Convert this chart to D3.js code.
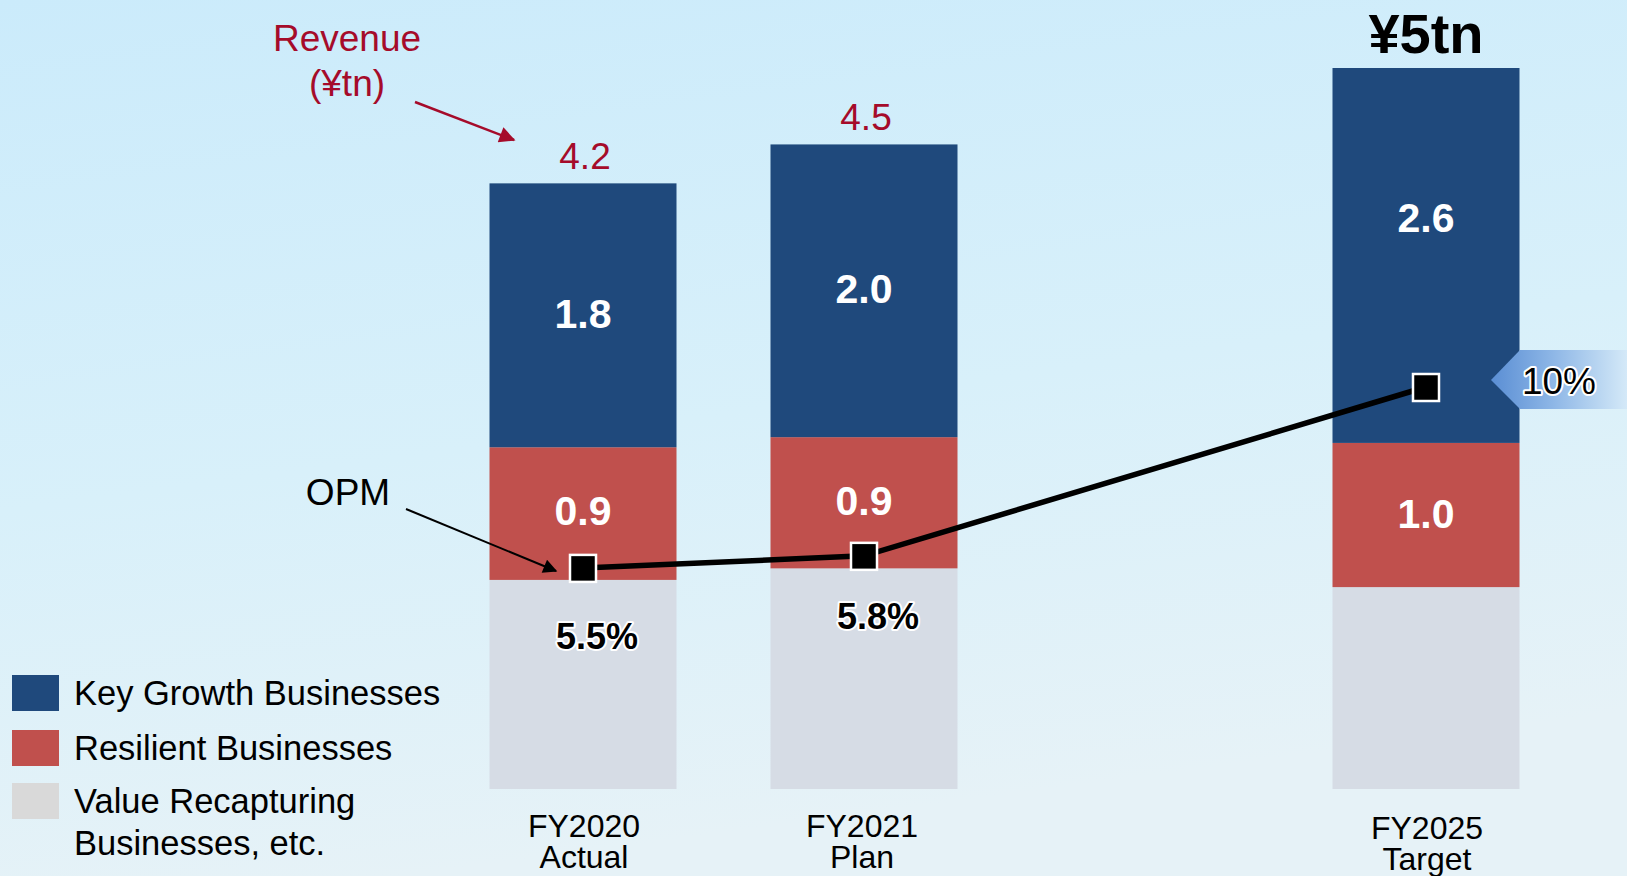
<!DOCTYPE html>
<html>
<head>
<meta charset="utf-8">
<script src="https://cdn.jsdelivr.net/npm/d3@7"></script>
<style>
  html, body { margin: 0; padding: 0; overflow: hidden; }
  svg { display: block; font-family: "Liberation Sans", Arial, sans-serif; }
</style>
</head>
<body>
<svg id="chart" width="1627" height="876"></svg>
<script>
// ---- data ----
const slots = ["FY2020", "FY2021", "", "FY2025"];
const categories = ["FY2020", "FY2021", "FY2025"];
const subLabels = ["Actual", "Plan", "Target"];
const valueRecapturing = [1.45, 1.53, 1.40];
const resilient = [0.92, 0.91, 1.00];
const keyGrowth = [1.83, 2.03, 2.60];
const keyGrowthLabels = ["1.8", "2.0", "2.6"];
const resilientLabels = ["0.9", "0.9", "1.0"];
const totalLabels = ["4.2", "4.5", "¥5tn"];
const opm = [5.5, 5.8, 10];
const opmLabels = ["5.5%", "5.8%", "10%"];
const seriesNames = ["Key Growth Businesses", "Resilient Businesses", "Value Recapturing\nBusinesses, etc."];
const colors = { key: "#1F497C", res: "#C0504D", val: "#D6DCE5", valLegend: "#D9D9D9" };

const svg = d3.select("#chart");
const W = 1627, H = 876;

// background
const defs = svg.append("defs");
const bg = defs.append("linearGradient").attr("id", "bg").attr("x1", 0).attr("y1", 0).attr("x2", 0.25).attr("y2", 1);
bg.append("stop").attr("offset", "0%").attr("stop-color", "#CBEBFB");
bg.append("stop").attr("offset", "55%").attr("stop-color", "#D8F0FA");
bg.append("stop").attr("offset", "100%").attr("stop-color", "#E6F2F7");
svg.append("rect").attr("width", W).attr("height", H).attr("fill", "url(#bg)");

const cg = defs.append("linearGradient").attr("id", "callout").attr("x1", 0).attr("x2", 1).attr("y1", 0).attr("y2", 0);
cg.append("stop").attr("offset", "0%").attr("stop-color", "#5A8ED4");
cg.append("stop").attr("offset", "45%").attr("stop-color", "#8DB6E6");
cg.append("stop").attr("offset", "100%").attr("stop-color", "#D4E9F8");

defs.append("marker").attr("id", "arrRed").attr("viewBox", "0 0 10 10")
  .attr("refX", 9).attr("refY", 5).attr("markerWidth", 18).attr("markerHeight", 16)
  .attr("markerUnits", "userSpaceOnUse").attr("orient", "auto")
  .append("path").attr("d", "M0,0 L10,5 L0,10 z").attr("fill", "#A50B2A");
defs.append("marker").attr("id", "arrBlk").attr("viewBox", "0 0 10 10")
  .attr("refX", 9).attr("refY", 5).attr("markerWidth", 16).attr("markerHeight", 14)
  .attr("markerUnits", "userSpaceOnUse").attr("orient", "auto")
  .append("path").attr("d", "M0,0 L10,5 L0,10 z").attr("fill", "#000");

// scales
const x = d3.scalePoint().domain(slots).range([583, 1426]);
const barW = 187;
const y = d3.scaleLinear().domain([0, 5]).range([789, 68]);
const yOpm = d3.scaleLinear().domain([0, 10]).range([789, 387]);

const stackData = categories.map((c, i) => ({ cat: c, val: valueRecapturing[i], res: resilient[i], key: keyGrowth[i] }));
const stack = d3.stack().keys(["val", "res", "key"])(stackData);

const gBars = svg.append("g");
stack.forEach(layer => {
  gBars.selectAll(null).data(layer).join("rect")
    .attr("x", d => x(d.data.cat) - barW / 2)
    .attr("width", barW)
    .attr("y", d => y(d[1]))
    .attr("height", d => y(d[0]) - y(d[1]))
    .attr("fill", colors[layer.key]);
});

// segment labels (key growth)
gBars.selectAll(null).data(stack[2]).join("text")
  .attr("x", d => x(d.data.cat))
  .attr("y", (d, i) => i === 2 ? y(d[1]) + 150 : (y(d[0]) + y(d[1])) / 2 - 2)
  .attr("dy", "0.35em").attr("text-anchor", "middle")
  .attr("fill", "#fff").attr("font-weight", "bold").attr("font-size", 41)
  .text((d, i) => keyGrowthLabels[i]);
// resilient labels
gBars.selectAll(null).data(stack[1]).join("text")
  .attr("x", d => x(d.data.cat))
  .attr("y", (d, i) => i === 2 ? (y(d[0]) + y(d[1])) / 2 - 1 : y(d[1]) + 63)
  .attr("dy", "0.35em").attr("text-anchor", "middle")
  .attr("fill", "#fff").attr("font-weight", "bold").attr("font-size", 41)
  .text((d, i) => resilientLabels[i]);

// totals
const totals = stack[2];
svg.selectAll(null).data(totals.slice(0, 2)).join("text")
  .attr("x", d => x(d.data.cat) + 2)
  .attr("y", d => y(d[1]) - 27)
  .attr("dy", "0.35em").attr("text-anchor", "middle")
  .attr("fill", "#A50B2A").attr("font-size", 37)
  .text((d, i) => totalLabels[i]);
svg.append("text").attr("x", x("FY2025")).attr("y", y(totals[2][1]) - 35)
  .attr("dy", "0.35em").attr("text-anchor", "middle")
  .attr("font-weight", "bold").attr("font-size", 56).attr("fill", "#000")
  .text(totalLabels[2]);

// category labels
const gx = svg.append("g");
categories.forEach((c, i) => {
  const cx = x(c) + (i === 1 ? -2 : 1);
  const t = gx.append("text").attr("x", cx).attr("y", 837 + (i === 2 ? 2 : 0))
    .attr("text-anchor", "middle").attr("font-size", 32).attr("fill", "#000");
  t.append("tspan").attr("x", cx).text(c);
  t.append("tspan").attr("x", cx).attr("dy", 31).text(subLabels[i]);
});

// callout for 10%
svg.append("path")
  .attr("d", "M1491,380 L1520,350 L1627,350 L1627,409 L1520,409 Z")
  .attr("fill", "url(#callout)");

// OPM line
const line = d3.line().x(d => x(d.cat)).y(d => yOpm(d.v));
const opmData = categories.map((c, i) => ({ cat: c, v: opm[i] }));
svg.append("path").datum(opmData).attr("d", line)
  .attr("fill", "none").attr("stroke", "#000").attr("stroke-width", 5.5);
svg.selectAll(null).data(opmData).join("rect")
  .attr("x", d => x(d.cat) - 13).attr("y", d => yOpm(d.v) - 13)
  .attr("width", 26).attr("height", 27)
  .attr("fill", "#000").attr("stroke", "#fff").attr("stroke-width", 2.5);

// OPM labels
const halo = sel => sel.attr("stroke", "#fff").attr("stroke-width", 4).attr("paint-order", "stroke").attr("stroke-linejoin", "round");
const opmLabelDy = [68, 61];
svg.selectAll(null).data(opmData.slice(0, 2)).join("text")
  .attr("x", d => x(d.cat) + 14).attr("y", (d, i) => yOpm(d.v) + opmLabelDy[i])
  .attr("dy", "0.35em").attr("text-anchor", "middle")
  .attr("font-weight", "bold").attr("font-size", 36).attr("fill", "#000")
  .text((d, i) => opmLabels[i]).call(halo);
svg.append("text").attr("x", 1559).attr("y", yOpm(opm[2]) - 6)
  .attr("dy", "0.35em").attr("text-anchor", "middle")
  .attr("font-size", 37).attr("fill", "#000")
  .text(opmLabels[2]).call(halo);

// annotations
svg.append("text").attr("x", 347).attr("y", 38).attr("dy", "0.35em").attr("text-anchor", "middle")
  .attr("fill", "#A50B2A").attr("font-size", 37).text("Revenue");
svg.append("text").attr("x", 347).attr("y", 83).attr("dy", "0.35em").attr("text-anchor", "middle")
  .attr("fill", "#A50B2A").attr("font-size", 37).text("(¥tn)");
svg.append("line").attr("x1", 415).attr("y1", 102).attr("x2", 514).attr("y2", 140)
  .attr("stroke", "#A50B2A").attr("stroke-width", 2.5).attr("marker-end", "url(#arrRed)");

svg.append("text").attr("x", 348).attr("y", 492).attr("dy", "0.35em").attr("text-anchor", "middle")
  .attr("fill", "#000").attr("font-size", 37).text("OPM");
svg.append("line").attr("x1", 406).attr("y1", 509).attr("x2", 556).attr("y2", 571)
  .attr("stroke", "#000").attr("stroke-width", 2).attr("marker-end", "url(#arrBlk)");

// legend
const legendColors = [colors.key, colors.res, colors.valLegend];
const legendY = [693, 748, 801];
const gl = svg.append("g");
seriesNames.forEach((n, i) => {
  gl.append("rect").attr("x", 12).attr("y", legendY[i] - 18).attr("width", 47).attr("height", 36)
    .attr("fill", legendColors[i]);
  n.split("\n").forEach((ln, j) => {
    gl.append("text").attr("x", 74).attr("y", legendY[i] + j * 42).attr("dy", "0.35em")
      .attr("font-size", 34.5).attr("fill", "#000").text(ln);
  });
});
</script>
</body>
</html>
